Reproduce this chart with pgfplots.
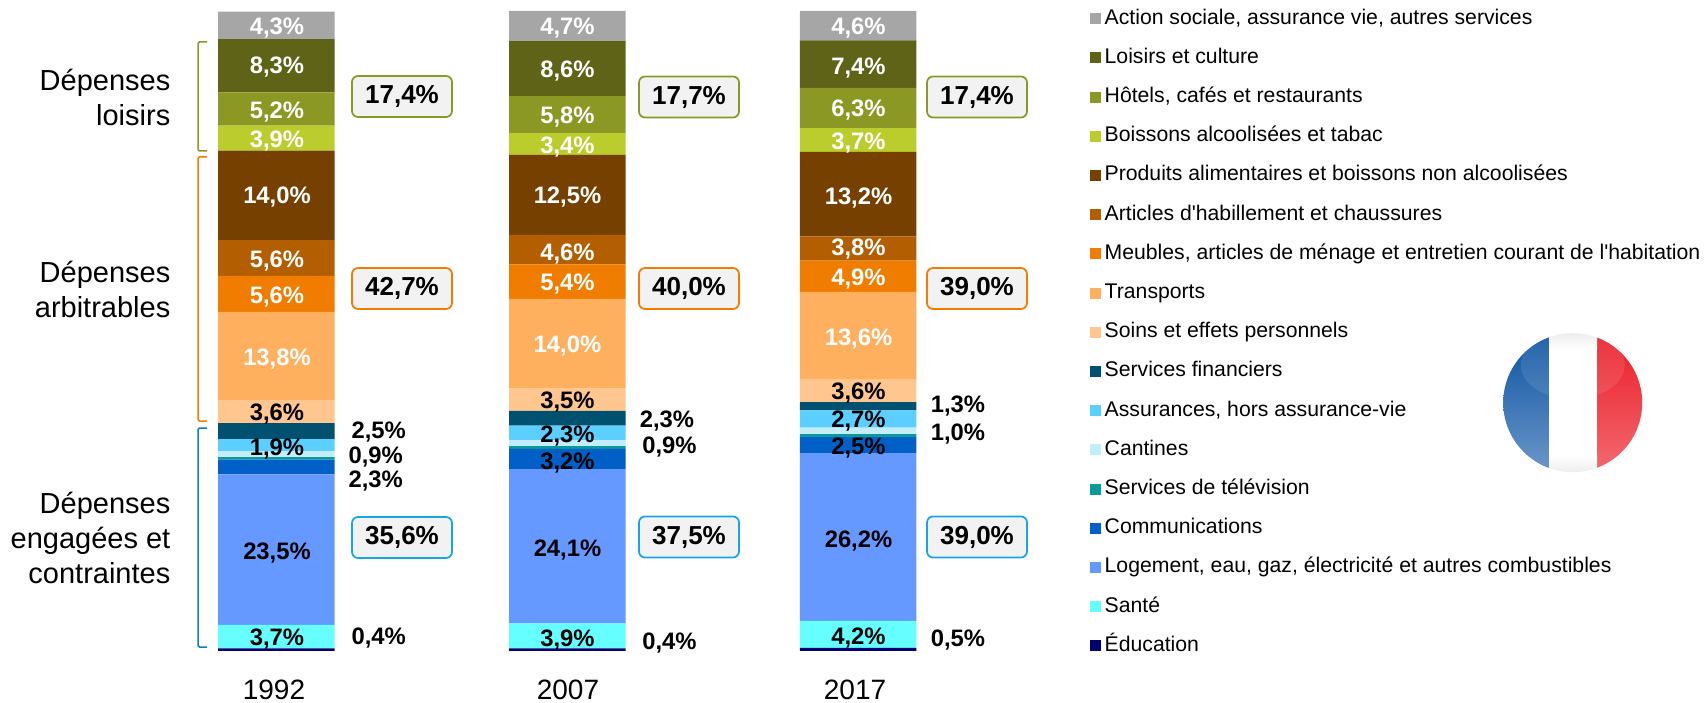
\documentclass[border=0pt]{standalone}
\usepackage{fontspec}
\setmainfont{Liberation Sans}[Ligatures=TeXOff]
\usepackage{pgfplots}
\usepackage{pgfplotstable}
\pgfplotsset{compat=1.18}

\definecolor{cAct}{HTML}{A6A6A6}
\definecolor{cLoi}{HTML}{5E6318}
\definecolor{cHot}{HTML}{8C9824}
\definecolor{cBoi}{HTML}{BACD2C}
\definecolor{cAli}{HTML}{764000}
\definecolor{cHab}{HTML}{B35E00}
\definecolor{cMeu}{HTML}{F07C00}
\definecolor{cTra}{HTML}{FFB05F}
\definecolor{cSoi}{HTML}{FFC78F}
\definecolor{cFin}{HTML}{00506F}
\definecolor{cAss}{HTML}{5BCFFF}
\definecolor{cCan}{HTML}{C4EDFB}
\definecolor{cTv}{HTML}{0A9A9A}
\definecolor{cCom}{HTML}{0060C8}
\definecolor{cLog}{HTML}{6699FF}
\definecolor{cSan}{HTML}{66FFFF}
\definecolor{cEdu}{HTML}{000070}
\definecolor{boxG}{HTML}{8C9824}
\definecolor{boxO}{HTML}{F07C00}
\definecolor{boxB}{HTML}{17A7E0}
\definecolor{braB}{HTML}{1080B0}
\definecolor{flagB1}{HTML}{0C52A2}
\definecolor{flagB2}{HTML}{6C98C8}
\definecolor{flagR1}{HTML}{EA1C26}
\definecolor{flagR2}{HTML}{F36A72}

% x is the bar centre in pixels of the reference
\pgfplotstableread{
x     edu san log  com tv  can ass fin soi tra  meu hab ali  boi hot loi act
276.3 0.4 3.7 23.5 2.3 0.4 0.9 1.9 2.5 3.6 13.8 5.6 5.6 14.0 3.9 5.2 8.3 4.3
567.3 0.4 3.9 24.1 3.2 0.4 0.9 2.3 2.3 3.5 14.0 5.4 4.6 12.5 3.4 5.8 8.6 4.7
858.1 0.5 4.2 26.2 2.5 0.5 1.0 2.7 1.3 3.6 13.6 4.9 3.8 13.2 3.7 6.3 7.4 4.6
}\shares

\pgfplotsset{
  seg/.style={fill=#1, draw=none},
  lab/.style={
    draw=none, mark=none, point meta=explicit symbolic,
    nodes near coords={\pgfplotspointmeta\%},
    nodes near coords style={anchor=center, inner sep=0pt, text height=16.5pt, text depth=0pt,
      text=#1, font=\fontsize{23.8}{28}\selectfont\bfseries},
  },
}
\newcommand{\groupbox}[4]{\node[draw=#4, line width=1.7pt, fill=black!5, rounded corners=6pt,
  minimum width=100pt, minimum height=41pt, inner sep=0pt,
  font=\fontsize{26}{30}\selectfont\bfseries] at (axis cs:#1,#2) {#3\%};}

\begin{document}
\begin{tikzpicture}
\useasboundingbox (0,0) rectangle (1707pt,703pt);
\begin{axis}[
    at={(0,0)}, anchor=south west,
    scale only axis, width=1707pt, height=703pt,
    xmin=0, xmax=1707, ymin=-8.125, ymax=101.72,
    ybar stacked, bar width=116.5, clip=false,
    axis y line=none, axis x line*=bottom,
    axis line style={draw=none}, tick style={draw=none},
    ytick=\empty,
    xtick={274,568,855}, xticklabels={1992,2007,2017},
    xticklabel style={font=\fontsize{28}{32}\selectfont, anchor=center, yshift=13pt},
    major tick length=0pt,
    reverse legend,
    legend image code/.code={\fill[#1] (0pt,-5.5pt) rectangle (11pt,5.5pt);},
    legend style={at={(1089.5/1707,1-8/703)}, anchor=north west, draw=none, fill=none,
      inner sep=0pt, row sep=18.2pt, column sep=4pt,
      nodes={inner sep=0pt, text height=16pt, text depth=5pt},
      font=\fontsize{21.2}{25}\selectfont},
    legend cell align=left,
]
\addplot[seg=cEdu] table[x=x,y=edu] {\shares}; \addlegendentry{Éducation}
\addplot[seg=cSan] table[x=x,y=san] {\shares}; \addlegendentry{Santé}
\addplot[seg=cLog] table[x=x,y=log] {\shares}; \addlegendentry{Logement, eau, gaz, électricité et autres combustibles}
\addplot[seg=cCom] table[x=x,y=com] {\shares}; \addlegendentry{Communications}
\addplot[seg=cTv]  table[x=x,y=tv]  {\shares}; \addlegendentry{Services de télévision}
\addplot[seg=cCan] table[x=x,y=can] {\shares}; \addlegendentry{Cantines}
\addplot[seg=cAss] table[x=x,y=ass] {\shares}; \addlegendentry{Assurances, hors assurance-vie}
\addplot[seg=cFin] table[x=x,y=fin] {\shares}; \addlegendentry{Services financiers}
\addplot[seg=cSoi] table[x=x,y=soi] {\shares}; \addlegendentry{Soins et effets personnels}
\addplot[seg=cTra] table[x=x,y=tra] {\shares}; \addlegendentry{Transports}
\addplot[seg=cMeu] table[x=x,y=meu] {\shares}; \addlegendentry{Meubles, articles de ménage et entretien courant de l'habitation}
\addplot[seg=cHab] table[x=x,y=hab] {\shares}; \addlegendentry{Articles d'habillement et chaussures}
\addplot[seg=cAli] table[x=x,y=ali] {\shares}; \addlegendentry{Produits alimentaires et boissons non alcoolisées}
\addplot[seg=cBoi] table[x=x,y=boi] {\shares}; \addlegendentry{Boissons alcoolisées et tabac}
\addplot[seg=cHot] table[x=x,y=hot] {\shares}; \addlegendentry{Hôtels, cafés et restaurants}
\addplot[seg=cLoi] table[x=x,y=loi] {\shares}; \addlegendentry{Loisirs et culture}
\addplot[seg=cAct] table[x=x,y=act] {\shares}; \addlegendentry{Action sociale, assurance vie, autres services}
\end{axis}

% annotations, in pixels of the reference
\begin{axis}[
    at={(0,0)}, anchor=south west,
    scale only axis, width=1707pt, height=703pt,
    xmin=0, xmax=1707, ymin=0, ymax=703, y dir=reverse,
    hide axis, clip=false,
]
\addplot[lab=white] table[meta=l] {
x y l
277 26 4,3
277 65.7 8,3
277 110 5,2
277 139 3,9
277 195.7 14,0
277 259 5,6
277 295 5,6
277 357 13,8
567.5 26 4,7
567.5 69.7 8,6
567.5 115.4 5,8
567.5 144.8 3,4
567.5 194.9 12,5
567.5 252.6 4,6
567.5 282 5,4
567.5 344 14,0
858.5 26 4,6
858.5 66.4 7,4
858.5 107.8 6,3
858.5 141.5 3,7
858.5 196 13,2
858.5 247 3,8
858.5 277.6 4,9
858.5 337.5 13,6
};
\addplot[lab=black] table[meta=l] {
x y l
277 412.7 3,6
277 447 1,9
277 551 23,5
277 637.7 3,7
378.7 430 2,5
375.7 455 0,9
375.7 479 2,3
378.7 636.7 0,4
567.5 400.6 3,5
567.5 434.4 2,3
567.5 461.6 3,2
567.5 548.7 24,1
567.5 638 3,9
667 419 2,3
669.5 445 0,9
669.5 641 0,4
858.5 390.8 3,6
858.5 419 2,7
858.5 446.3 2,5
858.5 538.9 26,2
858.5 636 4,2
958 404 1,3
958 432 1,0
958 638 0,5
};
\groupbox{402}{96.5}{17,4}{boxG}
\groupbox{402}{288.5}{42,7}{boxO}
\groupbox{402}{537.5}{35,6}{boxB}
\groupbox{689}{97}{17,7}{boxG}
\groupbox{689}{288.5}{40,0}{boxO}
\groupbox{689}{537}{37,5}{boxB}
\groupbox{977}{97}{17,4}{boxG}
\groupbox{977}{288.5}{39,0}{boxO}
\groupbox{977}{537}{39,0}{boxB}
\draw[boxG, line width=1.5pt, rounded corners=1.5pt] (axis cs:207,42) -- (axis cs:198,42) -- (axis cs:198,151) -- (axis cs:207,151);
\draw[boxO, line width=1.5pt, rounded corners=1.5pt] (axis cs:207,157) -- (axis cs:198,157) -- (axis cs:198,421) -- (axis cs:207,421);
\draw[braB, line width=1.5pt, rounded corners=1.5pt] (axis cs:207,428) -- (axis cs:198,428) -- (axis cs:198,647) -- (axis cs:207,647);
\node[anchor=east, align=right, inner sep=0pt, font=\fontsize{29}{35}\selectfont] at (axis cs:170.5,97.5) {Dépenses\\loisirs};
\node[anchor=east, align=right, inner sep=0pt, font=\fontsize{29}{35}\selectfont] at (axis cs:170.5,289.5) {Dépenses\\arbitrables};
\node[anchor=east, align=right, inner sep=0pt, font=\fontsize{29}{35}\selectfont] at (axis cs:170.5,538) {Dépenses\\engagées et\\contraintes};
\end{axis}

% flag
\begin{scope}[shift={(0,703pt)}, x=1pt, y=-1pt]
\begin{scope}
\clip (1572.7,402.7) circle (69.5);
\shade[shading angle=35, top color=flagB1, bottom color=flagB2] (1503,333) rectangle (1549.3,473);
\shade[shading angle=-35, top color=flagR1, bottom color=flagR2] (1597,333) rectangle (1643,473);
\fill[white, opacity=0.1] (1572.7,365) ellipse (52 and 34);
\fill[white] (1549.3,330) rectangle (1597,475);
\shade[top color=black!7, bottom color=white] (1549.3,333) rectangle (1597,350);
\shade[top color=white, bottom color=black!7] (1549.3,455) rectangle (1597,473);
\end{scope}
\end{scope}
\end{tikzpicture}
\end{document}
